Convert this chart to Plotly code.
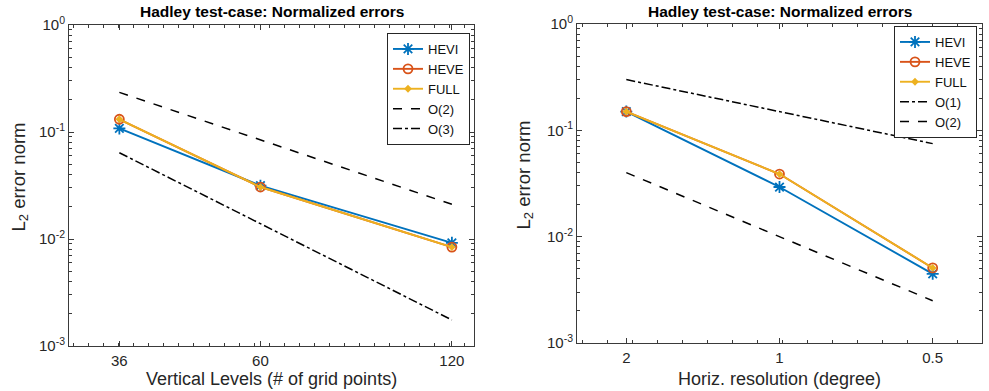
import numpy as np
import plotly.graph_objects as go

# ---- data: vertical refinement ----
levels = [36, 60, 120]
hevi_v = [0.108, 0.0315, 0.0092]
heve_v = [0.1315, 0.0306, 0.0084]
full_v = [0.1315, 0.0306, 0.0084]
ref_v_x = [36, 120]
o2_v = [0.2344, 0.0211]
o3_v = [0.064, 0.00175]

# ---- data: horizontal refinement ----
res_deg = [2, 1, 0.5]
hevi_h = [0.150, 0.0293, 0.00447]
heve_h = [0.150, 0.0388, 0.00508]
full_h = [0.150, 0.0388, 0.00508]
ref_h_x = [2, 0.5]
o1_h = [0.30, 0.075]
o2_h = [0.04, 0.0025]

y_tickvals = [1e-3, 1e-2, 1e-1, 1]
y_ticktext = ["10<sup>-3</sup>", "10<sup>-2</sup>", "10<sup>-1</sup>", "10<sup>0</sup>"]

C_HEVI = "#0072BD"
C_HEVE = "#D95319"
C_FULL = "#EDB120"
AX = "#3a3a3a"
FONT = "Liberation Sans, Arial, Helvetica, sans-serif"

W, H = 989, 391

fig = go.Figure()


def add_series(x, ys, xa, ya, leg, refs):
    hevi, heve, full = ys
    fig.add_trace(go.Scatter(
        x=x, y=hevi, name="HEVI", xaxis=xa, yaxis=ya, legend=leg,
        mode="lines+markers",
        line=dict(color=C_HEVI, width=1.9),
        marker=dict(symbol="asterisk-open", size=10, color=C_HEVI,
                    line=dict(color=C_HEVI, width=1.8))))
    fig.add_trace(go.Scatter(
        x=x, y=heve, name="HEVE", xaxis=xa, yaxis=ya, legend=leg,
        mode="lines+markers",
        line=dict(color=C_HEVE, width=1.9),
        marker=dict(symbol="circle-open", size=9, color=C_HEVE,
                    line=dict(color=C_HEVE, width=1.8))))
    fig.add_trace(go.Scatter(
        x=x, y=full, name="FULL", xaxis=xa, yaxis=ya, legend=leg,
        mode="lines+markers",
        line=dict(color=C_FULL, width=1.9),
        marker=dict(symbol="diamond", size=6, color=C_FULL)))
    for rx, ry, name, dash in refs:
        fig.add_trace(go.Scatter(
            x=rx, y=ry, name=name, xaxis=xa, yaxis=ya, legend=leg,
            mode="lines", line=dict(color="black", width=1.5, dash=dash)))


add_series(levels, (hevi_v, heve_v, full_v), "x", "y", "legend",
           [(ref_v_x, o2_v, "O(2)", "dash"), (ref_v_x, o3_v, "O(3)", "dashdot")])
add_series(res_deg, (hevi_h, heve_h, full_h), "x2", "y2", "legend2",
           [(ref_h_x, o1_h, "O(1)", "dashdot"), (ref_h_x, o2_h, "O(2)", "dash")])

# pixel geometry of the two boxes
L1, R1, T1, B1 = 69, 474, 25, 346
L2, R2, T2, B2 = 577, 982, 24, 343


def px(v):
    return v / W


def py(v):
    return 1 - v / H


def minor_log_ticks():
    vals = []
    for e in range(-3, 0):
        for k in range(2, 10):
            vals.append(k * 10.0 ** e)
    return vals


common_axis = dict(
    showline=True, linecolor=AX, linewidth=1, mirror="allticks",
    ticks="inside", ticklen=5, tickcolor=AX, showgrid=False, zeroline=False,
    tickfont=dict(family=FONT, size=15, color="#262626"),
)

yaxis_common = dict(
    common_axis, type="log", range=[-3, 0], tickmode="array",
    tickvals=y_tickvals, ticktext=y_ticktext,
    minor=dict(tickmode="array", tickvals=minor_log_ticks(), ticks="inside",
               ticklen=3, tickcolor=AX, showgrid=False),
)

# uniformly spaced (in log) minor ticks along the x axes
xminor1 = list(np.exp(np.arange(np.log(30.5), np.log(130), 0.0545)))
xminor2 = list(np.exp(np.arange(np.log(0.4), np.log(2.5), 0.113)))

legend_style = dict(xanchor="left", yanchor="top",
                    bgcolor="white", bordercolor="#262626", borderwidth=1,
                    font=dict(family=FONT, size=13, color="#111"),
                    tracegroupgap=0, itemwidth=30)

fig.update_layout(
    width=W, height=H,
    margin=dict(l=0, r=0, t=0, b=0, autoexpand=False),
    paper_bgcolor="white", plot_bgcolor="white",
    font=dict(family=FONT, color="#262626"),
    showlegend=True,
    xaxis=dict(common_axis, type="log", domain=[px(L1), px(R1)],
               range=[np.log10(30), np.log10(130)], tickmode="array",
               tickvals=levels, ticktext=[str(v) for v in levels],
               ticklabelstandoff=1,
               minor=dict(tickmode="array", tickvals=xminor1, ticks="inside",
                          ticklen=3, tickcolor=AX, showgrid=False),
               anchor="y"),
    yaxis=dict(yaxis_common, domain=[py(B1), py(T1)], anchor="x"),
    xaxis2=dict(common_axis, type="log", domain=[px(L2), px(R2)],
                range=[np.log10(2.5), np.log10(0.4)], tickmode="array",
                tickvals=res_deg, ticktext=["2", "1", "0.5"],
                ticklabelstandoff=1,
                minor=dict(tickmode="array", tickvals=xminor2, ticks="inside",
                           ticklen=3, tickcolor=AX, showgrid=False),
                anchor="y2"),
    yaxis2=dict(yaxis_common, domain=[py(B2), py(T2)], anchor="x2"),
    legend=dict(legend_style, x=px(387), y=py(33)),
    legend2=dict(legend_style, x=px(894), y=py(26)),
)

title_txt = "<b>Hadley test-case: Normalized errors</b>"
ann = []
for (l, r, t, b, xtitle, yoff) in [(L1, R1, T1, B1, "Vertical Levels (# of grid points)", 50),
                                    (L2, R2, T2, B2, "Horiz. resolution (degree)", 53)]:
    cx = px((l + r) / 2)
    ann.append(dict(text=title_txt, x=cx, y=py(12), xref="paper", yref="paper",
                    showarrow=False, xanchor="center", yanchor="middle",
                    font=dict(family=FONT, size=15.5, color="black")))
    ann.append(dict(text=xtitle, x=cx, y=py(379), xref="paper", yref="paper",
                    showarrow=False, xanchor="center", yanchor="middle",
                    font=dict(family=FONT, size=18, color="#262626")))
    ann.append(dict(text="L<sub>2</sub> error norm", x=px(l - yoff), y=py((t + b) / 2 - 8),
                    xref="paper", yref="paper", showarrow=False, textangle=-90,
                    xanchor="center", yanchor="middle",
                    font=dict(family=FONT, size=18.5, color="#262626")))
fig.update_layout(annotations=ann)

fig.write_html("out.html")
